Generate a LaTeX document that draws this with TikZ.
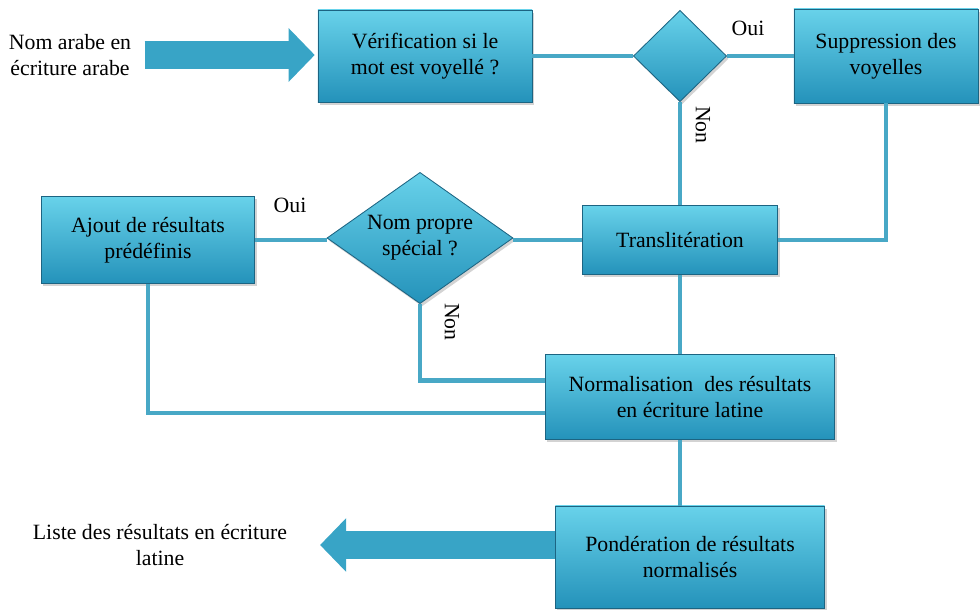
\documentclass[tikz,border=0pt]{standalone}
\usepackage{fontspec}
\setmainfont{Liberation Serif}
\usetikzlibrary{shapes.geometric,shadows,calc,arrows.meta}
\definecolor{boitehaut}{RGB}{104,210,234}
\definecolor{boitebas}{RGB}{36,146,186}
\definecolor{bord}{RGB}{28,100,130}
\definecolor{trait}{RGB}{72,168,198}
\definecolor{fleche}{RGB}{56,164,198}

\begin{document}
\begin{tikzpicture}[x=0.025cm,y=-0.025cm,
    bloc/.style={rectangle,draw=bord,line width=0.6pt,top color=boitehaut,bottom color=boitebas,
        drop shadow={opacity=0.35,shadow xshift=0.05cm,shadow yshift=-0.07cm},
        align=center,inner sep=0pt,font=\fontsize{15.5}{18.5}\selectfont},
    losange/.style={bloc,diamond},
    lien/.style={draw=trait,line width=3.5pt},
    grosse/.style={draw=fleche,line width=0.72cm,-{Triangle[width=1.3cm,length=0.65cm]}},
    texte/.style={align=center,font=\fontsize{15.5}{18.5}\selectfont}]
    \useasboundingbox (0,0) rectangle (980,610);

    \node[texte] (entree) at (70,55) {Nom arabe en\\écriture arabe};
    \node[bloc,minimum width=5.35cm,minimum height=2.3cm] (verif) at (425,56) {Vérification si le\\mot est voyellé ?};
    \node[losange,minimum width=2.33cm,minimum height=2.28cm] (d1) at (680,56) {};
    \node[bloc,minimum width=4.6cm,minimum height=2.35cm] (supp) at (886,56) {Suppression des\\voyelles};
    \node[bloc,minimum width=4.88cm,minimum height=1.73cm] (translit) at (680,240) {Translitération};
    \node[losange,aspect=1.3,minimum width=4.65cm,minimum height=3.28cm] (d2) at (420,238) {Nom propre\\spécial ?};
    \node[bloc,minimum width=5.33cm,minimum height=2.18cm] (ajout) at (148,240) {Ajout de résultats\\prédéfinis};
    \node[bloc,minimum width=7.23cm,minimum height=2.13cm] (norm) at (690,397) {Normalisation~~des résultats\\en écriture latine};
    \node[bloc,minimum width=6.73cm,minimum height=2.55cm] (pond) at (690,557) {Pondération de résultats\\normalisés};
    \node[texte] (sortie) at (160,545) {Liste des résultats en écriture\\latine};

    \node[texte] (oui1) at (748,28) {Oui};
    \node[texte,rotate=-90] (non1) at (703,125) {Non};
    \node[texte] (oui2) at (290,205) {Oui};
    \node[texte,rotate=-90] (non2) at (452,322) {Non};

    \begin{scope}[on background layer/.try]
    \draw[lien] (verif.east) -- (d1.west);
    \draw[lien] (d1.east) -- (supp.west);
    \draw[lien] (d1.south) -- (translit.north);
    \draw[lien] (supp.south) |- (translit.east);
    \draw[lien] (translit.west) -- (translit.west -| d2.east);
    \draw[lien] (ajout.east) -- (ajout.east -| d2.west);
    \draw[lien] (d2.south) |- ([yshift=0.42cm]norm.west);
    \draw[lien] (ajout.south) |- ([yshift=-0.4cm]norm.west);
    \draw[lien] (translit.south) -- (translit.south |- norm.north);
    \draw[lien] (translit.south |- norm.south) -- (translit.south |- pond.north);
    \end{scope}

    \draw[grosse,shorten <=6pt,shorten >=2pt] (entree.east) -- (entree.east -| verif.west);
    \draw[grosse,shorten >=0.7cm] (sortie.east -| pond.west) -- (sortie.east);
\end{tikzpicture}
\end{document}
